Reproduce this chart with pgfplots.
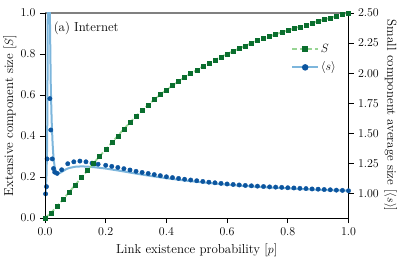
\documentclass[border=0pt]{standalone}
\usepackage{pgfplots}
\usepackage{pgfplotstable}
\pgfplotsset{compat=1.18}
\definecolor{dgreen}{HTML}{0A6E2E}
\definecolor{lgreen}{HTML}{98D594}
\definecolor{dblue}{HTML}{0B559F}
\definecolor{lblue}{HTML}{7DB6DC}

\pgfplotstableread{
p S
0.00 0.000
0.02 0.025
0.04 0.058
0.06 0.092
0.08 0.127
0.10 0.162
0.12 0.197
0.14 0.232
0.16 0.267
0.18 0.301
0.20 0.335
0.22 0.368
0.24 0.401
0.26 0.434
0.28 0.466
0.30 0.497
0.32 0.525
0.34 0.552
0.36 0.578
0.38 0.602
0.40 0.625
0.42 0.646
0.44 0.666
0.46 0.686
0.48 0.704
0.50 0.722
0.52 0.739
0.54 0.755
0.56 0.771
0.58 0.786
0.60 0.800
0.62 0.814
0.64 0.827
0.66 0.840
0.68 0.853
0.70 0.865
0.72 0.876
0.74 0.886
0.76 0.896
0.78 0.906
0.80 0.915
0.82 0.924
0.84 0.933
0.86 0.942
0.88 0.951
0.90 0.960
0.92 0.968
0.94 0.976
0.96 0.984
0.98 0.992
1.00 1.000
}\Sdata

\pgfplotstableread{
p s
0.002 1.00
0.005 1.06
0.007 1.29
0.016 1.79
0.019 1.53
0.024 1.29
0.028 1.21
0.032 1.18
0.040 1.17
0.055 1.20
0.075 1.25
0.095 1.266
0.115 1.272
0.135 1.266
0.155 1.255
0.175 1.246
0.20 1.237
0.22 1.228
0.24 1.219
0.26 1.209
0.28 1.198
0.30 1.187
0.32 1.178
0.34 1.169
0.36 1.160
0.38 1.151
0.40 1.142
0.42 1.135
0.44 1.128
0.46 1.121
0.48 1.115
0.50 1.109
0.52 1.103
0.54 1.097
0.56 1.092
0.58 1.087
0.60 1.082
0.62 1.078
0.64 1.074
0.66 1.070
0.68 1.067
0.70 1.064
0.72 1.061
0.74 1.058
0.76 1.056
0.78 1.054
0.80 1.051
0.82 1.049
0.84 1.046
0.86 1.044
0.88 1.041
0.90 1.039
0.92 1.036
0.94 1.034
0.96 1.031
0.98 1.029
1.00 1.026
}\sdata

\pgfplotstableread{
p s
0.000 1.00
0.003 1.04
0.005 1.15
0.007 1.40
0.008 1.80
0.009 2.40
0.010 3.20
0.012 3.60
0.014 3.20
0.016 2.50
0.019 1.90
0.022 1.60
0.025 1.42
0.028 1.30
0.032 1.22
0.036 1.185
0.040 1.172
0.045 1.170
0.050 1.175
0.060 1.190
0.070 1.205
0.080 1.215
0.100 1.225
0.120 1.228
0.140 1.226
0.160 1.222
0.180 1.216
0.200 1.210
0.250 1.190
0.300 1.168
0.350 1.148
0.400 1.130
0.450 1.114
0.500 1.100
0.550 1.088
0.600 1.077
0.650 1.067
0.700 1.059
0.750 1.052
0.800 1.046
0.850 1.040
0.900 1.035
0.950 1.030
1.000 1.026
}\stheory

\begin{document}
\fontsize{13}{15.5}\selectfont
\begin{tikzpicture}
\useasboundingbox (-45bp,-39bp) rectangle (366bp,218bp);
\pgfplotsset{
  common/.style={
    at={(0,0)}, anchor=south west,
    width=303.5bp, height=205bp, scale only axis,
    xmin=0, xmax=1,
    tick align=outside, major tick length=5bp,
    tick style={black, line width=0.8pt},
    axis line style={line width=1pt},
    legend image code/.code={\draw[mark repeat=2,mark phase=2,##1] plot coordinates {(0cm,0cm) (0.45cm,0cm) (0.9cm,0cm)};},
  }
}
\begin{axis}[common,
  ymin=0.8, ymax=2.5,
  axis x line*=top, axis y line*=right,
  xtick=\empty,
  x axis line style={gray, line width=1.2pt},
  ytick={1,1.25,1.5,1.75,2,2.25,2.5},
  yticklabel style={/pgf/number format/.cd, fixed, fixed zerofill, precision=2},
  ylabel={Small component average size [$\langle s\rangle$]},
  every axis y label/.style={at={(rel axis cs:1,0.5)}, xshift=42bp, rotate=-90, anchor=center},
]
\addplot[only marks, mark=*, mark size=2.2bp, dblue] table {\sdata};
\addplot[lblue, line width=2bp] table {\stheory};
\end{axis}
\begin{axis}[common,
  ymin=0, ymax=1,
  axis x line*=bottom, axis y line*=left,
  xtick={0,0.2,0.4,0.6,0.8,1},
  ytick={0,0.2,0.4,0.6,0.8,1},
  xticklabel style={/pgf/number format/.cd, fixed, fixed zerofill, precision=1},
  yticklabel style={/pgf/number format/.cd, fixed, fixed zerofill, precision=1},
  xlabel={Link existence probability [$p$]},
  ylabel={Extensive component size [$S$]},
  every axis y label/.style={at={(rel axis cs:0,0.5)}, xshift=-35bp, rotate=90, anchor=center},
  legend style={at={(0.975,0.87)}, anchor=north east, draw=none, fill=none, row sep=4pt},
  legend cell align=left,
]
\addplot[only marks, mark=square*, mark size=2.0bp, dgreen, forget plot] table {\Sdata};
\addplot[lgreen, line width=1.8bp, dash pattern=on 5bp off 2.5bp, forget plot] table {\Sdata};
\addlegendimage{lgreen, line width=1.8bp, dash pattern=on 5bp off 2.5bp, mark=square*, mark size=2.2bp, mark options={solid, fill=dgreen, draw=dgreen}}
\addlegendentry{$S$}
\addlegendimage{lblue, line width=2bp, mark=*, mark size=2.2bp, mark options={fill=dblue, draw=dblue}}
\addlegendentry{$\langle s\rangle$}
\node[anchor=north west, inner sep=1pt] at (rel axis cs:0.025,0.965) {(a) Internet};
\end{axis}
\end{tikzpicture}
\end{document}
